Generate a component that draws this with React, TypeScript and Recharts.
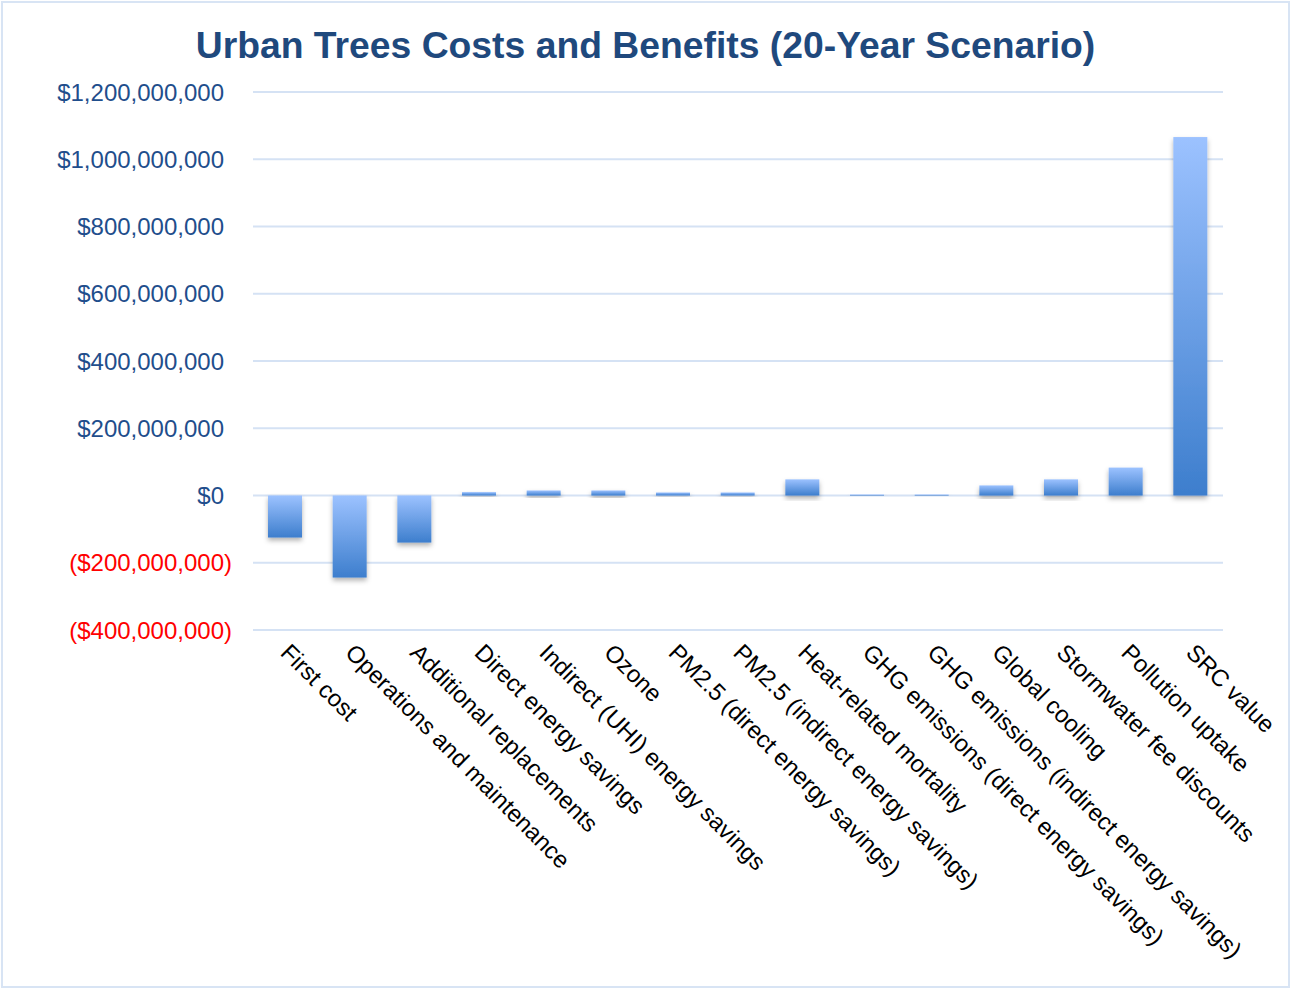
import { BarChart, Bar, XAxis, YAxis, CartesianGrid } from 'recharts';

// values (US dollars)
const categories = [
  'First cost',
  'Operations and maintenance',
  'Additional replacements',
  'Direct energy savings',
  'Indirect (UHI) energy savings',
  'Ozone',
  'PM2.5 (direct energy savings)',
  'PM2.5 (indirect energy savings)',
  'Heat-related mortality',
  'GHG emissions (direct energy savings)',
  'GHG emissions (indirect energy savings)',
  'Global cooling',
  'Stormwater fee discounts',
  'Pollution uptake',
  'SRC value',
];

const values = [
  -125000000, -244000000, -140000000, 10000000, 15000000, 15000000, 9000000, 9000000,
  48000000, 3000000, 3000000, 30000000, 48000000, 83000000, 1066000000,
];

const yTicks = [-400000000, -200000000, 0, 200000000, 400000000, 600000000, 800000000, 1000000000, 1200000000];

const data = categories.map((name, i) => ({ name, value: values[i] }));

const FONT = '"Liberation Sans", Arial, sans-serif';

const fmtMoney = (v: number) => {
  const s = '$' + Math.abs(v).toLocaleString('en-US');
  return v < 0 ? `(${s})` : s;
};

const YTick = (props: any) => {
  const { x, y, payload } = props;
  const neg = payload.value < 0;
  return (
    <text
      x={x - (neg ? 21 : 29)}
      y={y}
      dy="0.36em"
      textAnchor="end"
      fontFamily={FONT}
      fontSize={24}
      fill={neg ? '#ff0000' : '#1f4e8c'}
    >
      {fmtMoney(payload.value)}
    </text>
  );
};

const XTick = (props: any) => {
  const { x, y, payload } = props;
  const tx = x - 6;
  const ty = y + 24;
  return (
    <text
      x={tx}
      y={ty}
      textAnchor="start"
      fontFamily={FONT}
      fontSize={23.8}
      fill="#000000"
      transform={`rotate(45, ${tx}, ${ty})`}
    >
      {payload.value}
    </text>
  );
};

const BarShape = (p: any) => {
  const top = Math.min(p.y, p.y + p.height);
  const h = Math.abs(p.height);
  return <rect x={p.x} y={top} width={p.width} height={h} fill="url(#barGrad)" filter="url(#barShadow)" />;
};

export default function App() {
  return (
    <div style={{ position: 'absolute', left: 0, top: 0, width: 1291, height: 989, background: '#fff' }}>
      <div
        style={{
          position: 'absolute',
          left: 1,
          top: 1,
          width: 1285,
          height: 983,
          border: '2px solid #d8e4f4',
          pointerEvents: 'none',
        }}
      />
      <div
        style={{
          position: 'absolute',
          left: 0,
          top: 27,
          width: 1291,
          textAlign: 'center',
          fontFamily: FONT,
          fontWeight: 'bold',
          fontSize: 37.3,
          lineHeight: 1,
          color: '#1f497d',
        }}
      >
        Urban Trees Costs and Benefits (20-Year Scenario)
      </div>
      <BarChart width={1291} height={989} data={data} margin={{ top: 92, right: 68, bottom: 0, left: 0 }}>
        <defs>
          <linearGradient id="barGrad" x1="0" y1="0" x2="0" y2="1">
            <stop offset="0%" stopColor="#9cc2ff" />
            <stop offset="100%" stopColor="#3d7ecd" />
          </linearGradient>
          <filter id="barShadow" x="-30%" y="-30%" width="160%" height="160%">
            <feDropShadow dx="0" dy="3" stdDeviation="2.5" floodColor="#000" floodOpacity="0.3" />
          </filter>
        </defs>
        <CartesianGrid vertical={false} stroke="#d5e2f4" strokeWidth={2} />
        <XAxis
          dataKey="name"
          interval={0}
          height={359}
          axisLine={false}
          tickLine={false}
          tickSize={0}
          tickMargin={0}
          tick={<XTick />}
        />
        <YAxis
          width={253}
          domain={[-400000000, 1200000000]}
          ticks={yTicks}
          axisLine={false}
          tickLine={false}
          tickSize={0}
          tickMargin={0}
          tick={<YTick />}
        />
        <Bar dataKey="value" barSize={34} shape={<BarShape />} isAnimationActive={false} />
      </BarChart>
    </div>
  );
}
